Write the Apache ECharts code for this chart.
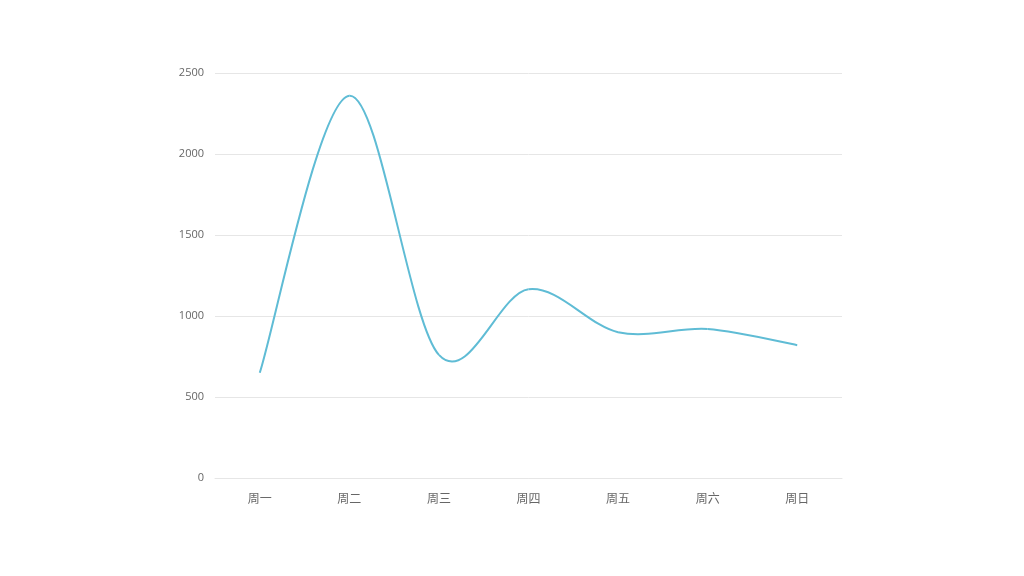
<!DOCTYPE html>
<html><head><meta charset="utf-8">
<script src="https://cdn.jsdelivr.net/npm/echarts@6/dist/echarts.min.js"></script>
<style>html,body{margin:0;padding:0;background:#fff}#c{width:1024px;height:576px}</style>
</head><body><div id="c"></div>
<script>
const categories = ['周一','周二','周三','周四','周五','周六','周日'];
const values = [650, 2360, 760, 1165, 900, 920, 820];
const yTicks = [0, 500, 1000, 1500, 2000, 2500];
const lineColor = '#5fbcd5';
const chart = echarts.init(document.getElementById('c'));
const n = values.length;
function renderSeg(params, api) {
  const i = api.value(0);
  if (i >= n - 1) return null;
  const P = k => { k = Math.max(0, Math.min(n - 1, k)); return api.coord([k, values[k]]); };
  const p0 = P(i - 1), p1 = P(i), p2 = P(i + 1), p3 = P(i + 2);
  return {
    type: 'bezierCurve',
    shape: {
      x1: p1[0], y1: p1[1], x2: p2[0], y2: p2[1],
      cpx1: p1[0] + (p2[0] - p0[0]) / 6, cpy1: p1[1] + (p2[1] - p0[1]) / 6,
      cpx2: p2[0] - (p3[0] - p1[0]) / 6, cpy2: p2[1] - (p3[1] - p1[1]) / 6
    },
    style: {stroke: lineColor, lineWidth: 2, fill: null}
  };
}
chart.setOption({
  animation: false,
  grid: {left: 215, right: 182, top: 73, bottom: 98},
  xAxis: {
    type: 'category', data: categories, boundaryGap: true,
    axisLine: {show: true, lineStyle: {color: '#e6e6e6'}},
    axisTick: {show: false},
    axisLabel: {color: '#666', fontSize: 12, margin: 14, fontFamily: 'Noto Sans CJK SC'}
  },
  yAxis: {
    type: 'value', min: yTicks[0], max: yTicks[yTicks.length - 1], interval: yTicks[1] - yTicks[0],
    axisLine: {show: false}, axisTick: {show: false},
    axisLabel: {color: '#666', fontSize: 11, margin: 11, fontFamily: 'Open Sans', formatter: v => String(v)},
    splitLine: {lineStyle: {color: '#e6e6e6'}}
  },
  series: [{
    type: 'custom', coordinateSystem: 'cartesian2d',
    data: values.map((v, i) => [i, v]),
    encode: {x: 0, y: 1},
    renderItem: renderSeg,
    clip: false
  }]
});
</script></body></html>
